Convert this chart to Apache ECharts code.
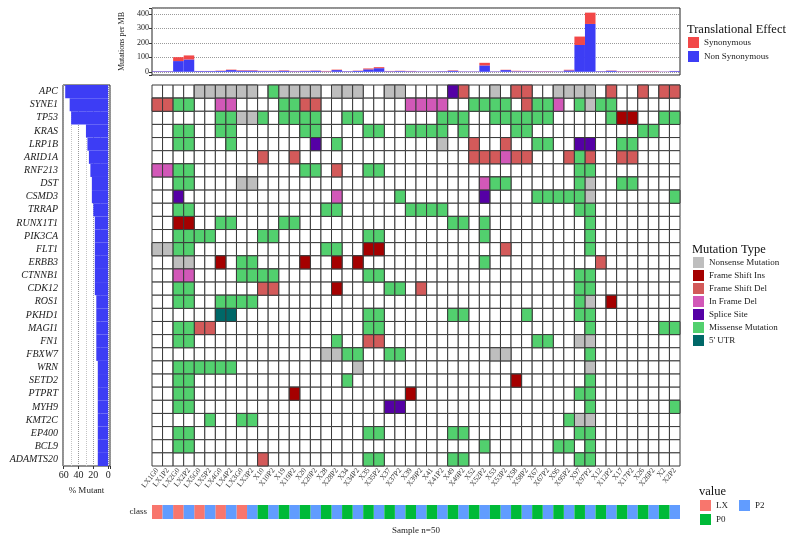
<!DOCTYPE html>
<html><head><meta charset="utf-8">
<script src="https://cdn.jsdelivr.net/npm/echarts@6/dist/echarts.min.js"></script>
<style>html,body{margin:0;padding:0;background:#fff}#c{width:786px;height:547px}</style>
</head><body><div id="c"></div>
<script>
const samples = ['LX1G0','LX1P2','LX2G0','LX2P2','LX5G0','LX5P2','LX4G0','LX4P2','LX3G0','LX3P2',
  'X10','X10P2','X19','X19P2','X20','X20P2','X28','X28P2','X34','X34P2',
  'X35','X35P2','X37','X37P2','X39','X39P2','X41','X41P2','X49','X49P2',
  'X52','X52P2','X53','X53P2','X58','X58P2','X67','X67P2','X95','X95P2',
  'X97','X97P2','X12','X12P2','X17','X17P2','X26','X26P2','X2','X2P2'];
const sampleClass = ['LX','P2','LX','P2','LX','P2','LX','P2','LX','P2',
  'P0','P2','P0','P2','P0','P2','P0','P2','P0','P2',
  'P0','P2','P0','P2','P0','P2','P0','P2','P0','P2',
  'P0','P2','P0','P2','P0','P2','P0','P2','P0','P2',
  'P0','P2','P0','P2','P0','P2','P0','P2','P0','P2'];
const genes = ['APC','SYNE1','TP53','KRAS','LRP1B','ARID1A','RNF213','DST','CSMD3','TRRAP',
  'RUNX1T1','PIK3CA','FLT1','ERBB3','CTNNB1','CDK12','ROS1','PKHD1','MAGI1','FN1',
  'FBXW7','WRN','SETD2','PTPRT','MYH9','KMT2C','EP400','BCL9','ADAMTS20'];
const pctMutant = [58,52,50,30,28,26,24,22,22,20,18,18,18,18,18,18,16,16,16,16,16,14,14,14,14,14,14,14,14];
const nonSynonymous = [4,4,74,85,5,5,6,12,8,8, 5,5,7,4,5,7,3,12,4,6, 17,25,4,5,4,3,3,4,7,3,
  3,44,3,12,4,4,3,3,3,10, 185,330,4,7,3,3,3,3,2,5];
const synonymous = [1,1,27,28,1,1,2,3,3,3, 2,2,3,2,2,2,3,3,1,2, 6,7,2,2,2,1,1,1,3,1,
  1,18,1,2,3,2,2,2,1,4, 58,78,1,2,2,2,3,3,1,1];
const mutationTypes = ['Nonsense Mutation','Frame Shift Ins','Frame Shift Del','In Frame Del','Splice Site','Missense Mutation',"5' UTR"];
const mutationCodes = ['N','I','D','F','S','M','U'];
// one string per gene, 50 samples in blocks of 10; '.' = no mutation
const mutationRows = [
  '....NNNNNN .MNNNN.NNN ..NN....SD ..N.DD..NN NN.D..D.DD',
  'DDMM..FF.. ..MMDD.... ....FFFF.. MMMM.DMMF. MNMM......',
  '......MMNN M.MMMM..MM .......MMM ..MMMMMM.. ...MII..MM',
  '..MM..MM.. ....MM.... MM..MMMM.M ....MM.... ......MM..',
  '..MM...M.. .....S.M.. .......N.. D..D..MM.. SS..MM....',
  '.......... D..D...... .......... DDDFDD...D MD..DD....',
  'FFMM...... ....MM.D.. MM........ .......... MM........',
  '..MM....NN .......... .......... .FMM...... MN..MM....',
  '..S....... .......F.. ...M...... .S....MMMM MN.......M',
  '..MM...... ......MM.. ....MMMM.. .......... MM........',
  '..II..MM.. ..MM...... ........MM .M........ .M........',
  '..MMMM.... MM........ MM........ .M........ .M........',
  'NNMM...... ......MM.. II........ ...D...... .M........',
  '..NN..I.MM ....I..I.I .......... .M........ ..D.......',
  '..FF....MM MM........ MM........ .......... MM........',
  '..MM...... DD.....I.. ..MM.D.... .......... MM........',
  '..MM..MMMM .......... .......... .......... MN.I......',
  '......UU.. .......... MM......MM .....M.... MM........',
  '..MMDD.... .......... MM........ .......... .M......MM',
  '..MM...... .......M.. DD........ ......MM.. NN........',
  '.......... ......NNMM ..MM...... ..NN...... .M........',
  '..MMMMMM.. .........N .......... .......... .N........',
  '..MM...... ........M. .......... ....I..... .M........',
  '..MM...... ...I...... ....I..... .......... MM........',
  '..MM...... .......... ..SS...... .......... .M.......M',
  '.....M..MM .......... .......... .........M NN........',
  '..MM...... .......... MM......MM .......... MM........',
  '..MM...... .......... .......... .M......MM .M........',
  '.......... D......... MM......MM .......... MM........'
];
const classNames = ['LX','P2','P0'];

const FONT = 'Liberation Serif';
const mutColors = ['#BEBEBE','#A50000','#D35A5A','#D258B8','#5500A5','#52D06E','#006868'];
const classColors = {LX:'#F8766D', P2:'#619CFF', P0:'#00BA38'};
const rows = mutationRows.map(r => r.replace(/ /g, ''));

const bgData = [];
genes.forEach((g, gi) => samples.forEach((s, si) => bgData.push([si, gi])));
const typeData = mutationCodes.map(code => {
  const arr = [];
  rows.forEach((row, gi) => { for (let si = 0; si < row.length; si++) if (row[si] === code) arr.push([si, gi]); });
  return arr;
});

function cellRender(stroke) {
  return function (params, api) {
    const p = api.coord([api.value(0), api.value(1)]);
    const sz = api.size([1, 1]);
    return {type: 'rect',
      shape: {x: p[0] - sz[0] / 2, y: p[1] - sz[1] / 2, width: sz[0], height: sz[1]},
      style: {fill: api.visual('color'), stroke: stroke, lineWidth: stroke ? 1 : 0}};
  };
}

const series = [
  {type: 'bar', name: 'Non Synonymous', xAxisIndex: 0, yAxisIndex: 0, stack: 'tmb', data: nonSynonymous,
   barCategoryGap: '0%', itemStyle: {color: '#3D3DF5'}},
  {type: 'bar', name: 'Synonymous', xAxisIndex: 0, yAxisIndex: 0, stack: 'tmb', data: synonymous,
   barCategoryGap: '0%', itemStyle: {color: '#F24848'}},
  {type: 'bar', name: 'pct', xAxisIndex: 1, yAxisIndex: 1, data: pctMutant,
   barCategoryGap: '0%', itemStyle: {color: '#3D3DF5'}},
  {type: 'custom', name: 'bg', xAxisIndex: 2, yAxisIndex: 2, data: bgData,
   itemStyle: {color: '#ffffff'}, renderItem: cellRender('#3a3a3a'), silent: true}
];
mutationTypes.forEach((t, i) => series.push({type: 'custom', name: t, xAxisIndex: 2, yAxisIndex: 2,
  data: typeData[i], itemStyle: {color: mutColors[i]}, renderItem: cellRender('#3a3a3a')}));
classNames.forEach(c => series.push({type: 'custom', name: c, xAxisIndex: 3, yAxisIndex: 3,
  data: samples.map((s, i) => sampleClass[i] === c ? [i, 0] : null).filter(Boolean),
  itemStyle: {color: classColors[c]}, renderItem: cellRender(null)}));

const txt = {fontFamily: FONT, color: '#222'};
const legText = {fontFamily: FONT, fontSize: 9, color: '#222'};
const legBase = {icon: 'rect', itemWidth: 11, itemHeight: 11, padding: 0, selectedMode: false, textStyle: legText};
const titleText = {fontFamily: FONT, fontSize: 12.5, fontWeight: 'normal', color: '#111'};
const option = {
  animation: false,
  backgroundColor: '#fff',
  textStyle: {fontFamily: FONT},
  title: [
    {text: 'Translational Effect', left: 687, top: 23, padding: 0, textStyle: titleText},
    {text: 'Mutation Type', left: 692, top: 243, padding: 0, textStyle: titleText},
    {text: 'value', left: 699, top: 485, padding: 0, textStyle: titleText}
  ],
  legend: [
    {...legBase, data: ['Synonymous', 'Non Synonymous'], orient: 'vertical', left: 688, top: 37, itemGap: 3},
    {...legBase, data: mutationTypes, orient: 'vertical', left: 693, top: 257, itemGap: 2},
    {...legBase, data: ['LX', 'P2'], orient: 'horizontal', left: 700, top: 500, itemGap: 11},
    {...legBase, data: ['P0'], orient: 'horizontal', left: 700, top: 514}
  ],
  grid: [
    {left: 152, top: 8, width: 528, height: 67, show: true, borderColor: '#222', borderWidth: 1},
    {left: 63, top: 85, width: 47, height: 381, show: true, borderColor: '#222', borderWidth: 1},
    {left: 152, top: 85, width: 528, height: 381},
    {left: 152, top: 505, width: 528, height: 14}
  ],
  xAxis: [
    {type: 'category', gridIndex: 0, data: samples, show: false},
    {type: 'value', gridIndex: 1, inverse: true, min: -2.5, max: 61, minInterval: 20, maxInterval: 20,
     axisLine: {show: false}, axisTick: {show: true, length: 3, lineStyle: {color: '#333'}},
     axisLabel: {...txt, fontSize: 10, margin: 4, formatter: v => (v >= 0 && v % 20 === 0) ? v : ''},
     splitLine: {show: true, lineStyle: {type: 'dotted', color: '#9a9a9a'}},
     minorTick: {show: false, splitNumber: 2},
     minorSplitLine: {show: true, lineStyle: {type: 'dotted', color: '#c4c4c4'}},
     name: '% Mutant', nameLocation: 'middle', nameGap: 20, nameTextStyle: {...txt, fontSize: 9}},
    {type: 'category', gridIndex: 2, data: samples, axisLine: {show: false}, axisTick: {show: false},
     axisLabel: {...txt, fontSize: 7.5, rotate: 52, margin: 3, interval: 0, color: '#333'}},
    {type: 'category', gridIndex: 3, data: samples, axisLine: {show: false}, axisTick: {show: false},
     axisLabel: {show: false}, name: 'Sample n=50', nameLocation: 'middle', nameGap: 7,
     nameTextStyle: {...txt, fontSize: 9}}
  ],
  yAxis: [
    {type: 'value', gridIndex: 0, min: -22, max: 440, minInterval: 100, maxInterval: 100,
     axisLine: {show: false}, axisTick: {show: true, length: 3, lineStyle: {color: '#333'}},
     axisLabel: {...txt, fontSize: 8, margin: 3, formatter: v => (v >= 0 && v % 100 === 0) ? v : ''},
     splitLine: {show: true, lineStyle: {type: 'dotted', color: '#9a9a9a'}},
     name: 'Mutations per MB', nameLocation: 'middle', nameGap: 16, nameTextStyle: {...txt, fontSize: 8}},
    {type: 'category', gridIndex: 1, data: genes, inverse: true,
     axisLine: {show: false}, axisTick: {show: true, length: 3, alignWithLabel: true, lineStyle: {color: '#333'}},
     axisLabel: {...txt, fontSize: 10, fontStyle: 'italic', margin: 5, interval: 0}},
    {type: 'category', gridIndex: 2, data: genes, inverse: true, show: false},
    {type: 'category', gridIndex: 3, data: ['class'], axisLine: {show: false}, axisTick: {show: false},
     axisLabel: {...txt, fontSize: 9, margin: 5}}
  ],
  series: series
};
const chart = echarts.init(document.getElementById('c'));
chart.setOption(option);
</script>
</body></html>
